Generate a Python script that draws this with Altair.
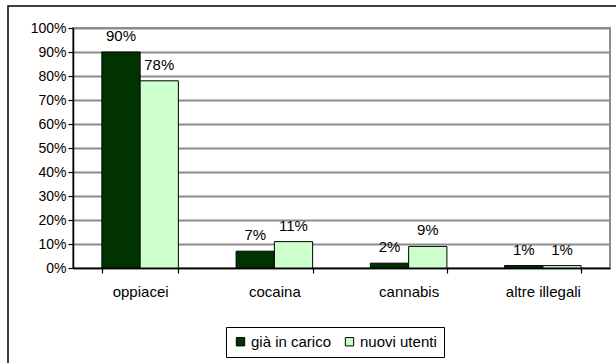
import altair as alt
import pandas as pd

# Substance categories and the share (%) for each user group
categories = ["oppiacei", "cocaina", "cannabis", "altre illegali"]
series = ["già in carico", "nuovi utenti"]
gia_in_carico = [90, 7, 2, 1]
nuovi_utenti = [78, 11, 9, 1]
y_ticks = [0, 10, 20, 30, 40, 50, 60, 70, 80, 90, 100]

rows = []
for i, cat in enumerate(categories):
    rows.append({"cat": cat, "gruppo": series[0], "val": gia_in_carico[i]})
    rows.append({"cat": cat, "gruppo": series[1], "val": nuovi_utenti[i]})
df = pd.DataFrame(rows)
df["lbl"] = df["val"].astype(str) + "%"

W, H = 537, 240
FONT = "Liberation Sans"

x_enc = alt.X(
    "cat:N",
    sort=categories,
    title=None,
    scale=alt.Scale(paddingInner=0.43, paddingOuter=0.215),
    axis=alt.Axis(
        labelAngle=0,
        labelFontSize=15,
        labelFont=FONT,
        labelColor="black",
        labelPadding=11,
        domainColor="black",
        domainWidth=1.5,
        tickColor="black",
        tickSize=5,
        tickWidth=1.2,
        tickBand="extent",
        grid=False,
    ),
)
off_enc = alt.XOffset("gruppo:N", sort=series, scale=alt.Scale(paddingInner=0, paddingOuter=0))
y_enc = alt.Y(
    "val:Q",
    title=None,
    scale=alt.Scale(domain=[0, 100], nice=False),
    axis=alt.Axis(
        values=y_ticks,
        labelExpr="datum.value + '%'",
        labelOverlap=False,
        labelFontSize=14,
        labelFont=FONT,
        labelColor="black",
        labelPadding=2,
        domainColor="black",
        domainWidth=1.5,
        tickColor="black",
        tickSize=5,
        tickWidth=1.2,
        grid=True,
        gridColor="#8c8c8c",
        gridWidth=2,
    ),
)

bars = alt.Chart(df).mark_bar(stroke="black", strokeWidth=1).encode(
    x=x_enc,
    xOffset=off_enc,
    y=y_enc,
    fill=alt.Fill(
        "gruppo:N",
        sort=series,
        scale=alt.Scale(domain=series, range=["#003300", "#ccffcc"]),
        legend=alt.Legend(
            title=None,
            orient="none",
            legendX=153,
            legendY=299,
            direction="horizontal",
            symbolType="square",
            symbolSize=70,
            symbolStrokeColor="black",
            symbolStrokeWidth=1,
            labelFontSize=15,
            labelFont=FONT,
            labelColor="black",
            columnPadding=10,
            labelOffset=3,
            padding=7,
            strokeColor="black",
            fillColor="white",
        ),
    ),
)

labels = alt.Chart(df).mark_text(
    fontSize=15, font=FONT, color="black", baseline="middle", dy=-16
).encode(
    x=x_enc,
    xOffset=off_enc,
    y=y_enc,
    text="lbl:N",
)

# outer frame around the whole chart
frame = alt.Chart(pd.DataFrame({"k": [0]})).mark_rect(
    fill=None, stroke="black", strokeWidth=1.5
).encode(
    x=alt.value(-65),
    x2=alt.value(W + 40),
    y=alt.value(-22),
    y2=alt.value(H + 140),
)

chart = (
    alt.layer(bars, labels, frame)
    .properties(
        width=W,
        height=H,
        autosize=alt.AutoSizeParams(type="none"),
        padding={"left": 73, "top": 28, "right": 6, "bottom": 95},
        background="white",
    )
    .configure_view(stroke="#8c8c8c", strokeWidth=2)
)

chart.save("out.html", embed_options={"renderer": "svg", "actions": False})
